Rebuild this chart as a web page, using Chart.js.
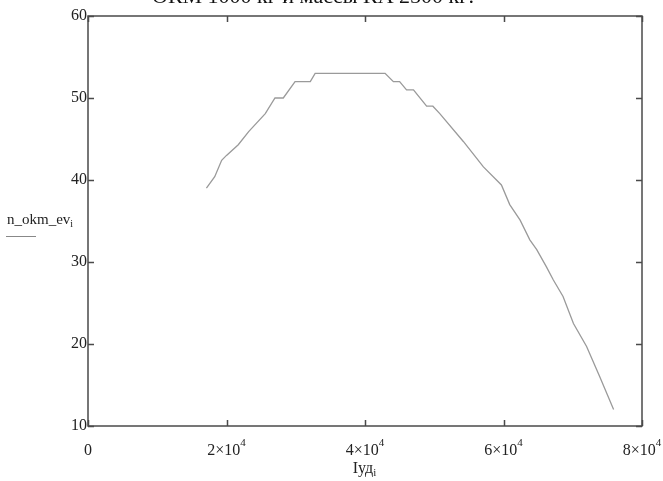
<!DOCTYPE html>
<html>
<head>
<meta charset="utf-8">
<script src="https://cdn.jsdelivr.net/npm/chart.js@4"></script>
<style>
  html, body { margin: 0; padding: 0; background: #fff; }
  #chart { display: block; }
</style>
</head>
<body>
<canvas id="chart" width="663" height="481"></canvas>
<script>
// Iуд values (x) and n_okm_ev values (y)
const iudValues = [17100, 18300, 19300, 20000, 21700, 23200, 25600, 27000, 28200, 29900, 32100, 32800,
  42900, 44100, 45000, 46000, 47000, 48900, 49800, 50800, 54200, 57100, 59700, 60900, 62400,
  63800, 64800, 66200, 67200, 68600, 70100, 72000, 73900, 75900];
const nOkmValues = [39, 40.4, 42.4, 43, 44.3, 45.9, 48.1, 50, 50, 52, 52, 53,
  53, 52, 52, 51, 51, 49, 49, 48.1, 44.7, 41.6, 39.4, 37, 35.1,
  32.7, 31.5, 29.4, 27.8, 25.8, 22.5, 19.7, 16, 12];

const xTicks = [0, 20000, 40000, 60000, 80000];
const xTickLabels = [["0", ""], ["2×10", "4"], ["4×10", "4"], ["6×10", "4"], ["8×10", "4"]];
const yTicks = [10, 20, 30, 40, 50, 60];
const yTickLabels = ["10", "20", "30", "40", "50", "60"];

const titleText = "ОКМ 1000 кг и массы КА 2500 кг:";
const xTitle = ["Iуд", "i"];
const yTitle = ["n_okm_ev", "i"];

const points = iudValues.map((x, i) => ({ x: x, y: nOkmValues[i] }));

const SERIF = "'Liberation Serif', 'Times New Roman', serif";

const framePlugin = {
  id: "frame",
  afterDraw(chart) {
    const ctx = chart.ctx;
    const a = chart.chartArea;
    const xs = chart.scales.x;
    const ys = chart.scales.y;
    ctx.save();

    // frame
    ctx.strokeStyle = "#4a4a4a";
    ctx.lineWidth = 1.5;
    ctx.strokeRect(a.left, a.top, a.right - a.left, a.bottom - a.top);

    // inward ticks on all sides
    ctx.beginPath();
    xTicks.forEach((v) => {
      const px = Math.round(xs.getPixelForValue(v)) + 0.5;
      ctx.moveTo(px, a.bottom);
      ctx.lineTo(px, a.bottom - 6);
      ctx.moveTo(px, a.top);
      ctx.lineTo(px, a.top + 6);
    });
    yTicks.forEach((v) => {
      const py = Math.round(ys.getPixelForValue(v)) + 0.5;
      ctx.moveTo(a.left, py);
      ctx.lineTo(a.left + 6, py);
      ctx.moveTo(a.right, py);
      ctx.lineTo(a.right - 6, py);
    });
    ctx.stroke();

    // y tick labels
    ctx.fillStyle = "#222";
    ctx.font = "16px " + SERIF;
    ctx.textAlign = "right";
    ctx.textBaseline = "middle";
    yTicks.forEach((v, i) => {
      ctx.fillText(yTickLabels[i], a.left - 1, ys.getPixelForValue(v));
    });

    // x tick labels with superscript
    ctx.textBaseline = "alphabetic";
    xTicks.forEach((v, i) => {
      const px = xs.getPixelForValue(v);
      const [base, sup] = xTickLabels[i];
      ctx.font = "16px " + SERIF;
      const wb = ctx.measureText(base).width;
      ctx.font = "11px " + SERIF;
      const ws = sup ? ctx.measureText(sup).width : 0;
      const start = px - (wb + ws) / 2;
      ctx.textAlign = "left";
      ctx.font = "16px " + SERIF;
      ctx.fillText(base, start, 455);
      if (sup) {
        ctx.font = "11px " + SERIF;
        ctx.fillText(sup, start + wb, 446);
      }
    });

    // x axis title
    ctx.font = "16px " + SERIF;
    const wx = ctx.measureText(xTitle[0]).width;
    const cx = (a.left + a.right) / 2;
    ctx.fillText(xTitle[0], cx - (wx + 4) / 2, 473);
    ctx.font = "11px " + SERIF;
    ctx.fillText(xTitle[1], cx - (wx + 4) / 2 + wx, 476);

    // y axis title
    ctx.font = "15px " + SERIF;
    const wy = ctx.measureText(yTitle[0]).width;
    ctx.fillText(yTitle[0], 7, 224);
    ctx.font = "10px " + SERIF;
    ctx.fillText(yTitle[1], 7 + wy, 227);
    ctx.strokeStyle = "#888";
    ctx.lineWidth = 1;
    ctx.beginPath();
    ctx.moveTo(6, 236.5);
    ctx.lineTo(36, 236.5);
    ctx.stroke();

    // clipped title at top
    ctx.font = "22px " + SERIF;
    ctx.fillStyle = "#111";
    ctx.fillText(titleText, 152, 3);

    ctx.restore();
  }
};

new Chart(document.getElementById("chart"), {
  type: "scatter",
  data: {
    datasets: [{
      data: points,
      showLine: true,
      borderColor: "#9a9a9a",
      borderWidth: 1.3,
      pointRadius: 0,
      tension: 0
    }]
  },
  options: {
    responsive: false,
    animation: false,
    layout: { padding: { left: 88, right: 21, top: 16, bottom: 55 } },
    plugins: { legend: { display: false }, tooltip: { enabled: false } },
    scales: {
      x: { type: "linear", min: 0, max: 80000, display: false },
      y: { type: "linear", min: 10, max: 60, display: false }
    }
  },
  plugins: [framePlugin]
});
</script>
</body>
</html>
